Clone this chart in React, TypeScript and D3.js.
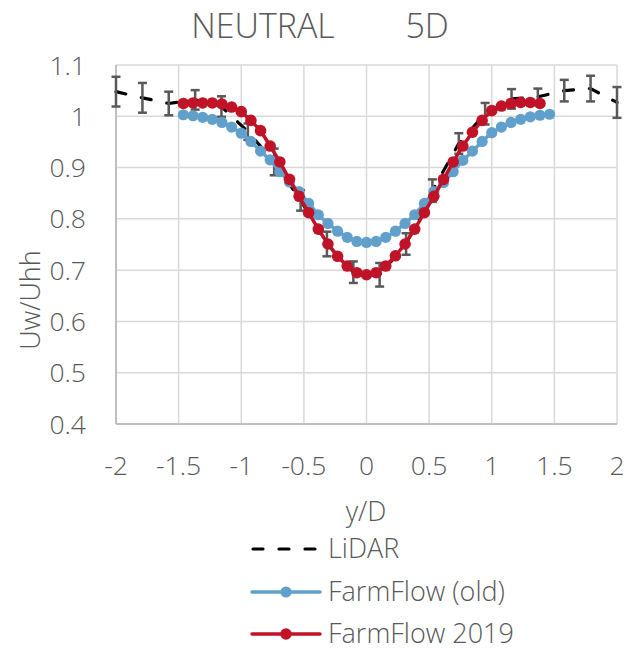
import React from "react";
import * as d3 from "d3";

// ---- data ----
const lidarX = [-2, -1.789, -1.579, -1.368, -1.158, -0.947, -0.737, -0.526, -0.316, -0.105, 0.105, 0.316, 0.526, 0.737, 0.947, 1.158, 1.368, 1.579, 1.789, 2];
const lidarY = [1.048, 1.036, 1.025, 1.032, 1.019, 0.97, 0.911, 0.836, 0.751, 0.696, 0.691, 0.751, 0.855, 0.947, 1.005, 1.034, 1.038, 1.05, 1.054, 1.027];
const lidarErr = [0.029, 0.029, 0.023, 0.019, 0.02, 0.016, 0.026, 0.02, 0.024, 0.021, 0.023, 0.021, 0.022, 0.02, 0.021, 0.019, 0.016, 0.021, 0.025, 0.03];

const oldX = [-1.462, -1.385, -1.308, -1.231, -1.154, -1.077, -1.0, -0.923, -0.846, -0.769, -0.692, -0.615, -0.538, -0.462, -0.385, -0.308, -0.231, -0.154, -0.077, 0,
  0.077, 0.154, 0.231, 0.308, 0.385, 0.462, 0.538, 0.615, 0.692, 0.769, 0.846, 0.923, 1.0, 1.077, 1.154, 1.231, 1.308, 1.385, 1.462];
const oldY = [1.003, 1.001, 0.998, 0.994, 0.988, 0.979, 0.967, 0.951, 0.932, 0.915, 0.892, 0.872, 0.853, 0.83, 0.808, 0.791, 0.776, 0.764, 0.756, 0.754,
  0.756, 0.764, 0.776, 0.791, 0.808, 0.83, 0.853, 0.871, 0.892, 0.914, 0.932, 0.951, 0.968, 0.979, 0.988, 0.994, 0.999, 1.002, 1.004];

const newX = [-1.462, -1.385, -1.308, -1.231, -1.154, -1.077, -1.0, -0.923, -0.846, -0.769, -0.692, -0.615, -0.538, -0.462, -0.385, -0.308, -0.231, -0.154, -0.077, 0,
  0.077, 0.154, 0.231, 0.308, 0.385, 0.462, 0.538, 0.615, 0.692, 0.769, 0.846, 0.923, 1.0, 1.077, 1.154, 1.231, 1.308, 1.385];
const newY = [1.025, 1.026, 1.026, 1.026, 1.024, 1.018, 1.009, 0.992, 0.972, 0.942, 0.911, 0.877, 0.844, 0.812, 0.78, 0.751, 0.727, 0.708, 0.695, 0.691,
  0.695, 0.708, 0.728, 0.751, 0.78, 0.812, 0.844, 0.877, 0.911, 0.942, 0.969, 0.992, 1.011, 1.02, 1.025, 1.027, 1.027, 1.025];

const xTicks = [-2, -1.5, -1, -0.5, 0, 0.5, 1, 1.5, 2];
const xTickLabels = ["-2", "-1.5", "-1", "-0.5", "0", "0.5", "1", "1.5", "2"];
const yTicks = [0.4, 0.5, 0.6, 0.7, 0.8, 0.9, 1.0, 1.1];
const yTickLabels = ["0.4", "0.5", "0.6", "0.7", "0.8", "0.9", "1", "1.1"];
const seriesNames = ["LiDAR", "FarmFlow (old)", "FarmFlow 2019"];
const titleText = "NEUTRAL        5D";
const xTitle = "y/D";
const yTitle = "Uw/Uhh";

const BLUE = "#62A0CC";
const RED = "#C01327";
const TEXT = "#595959";
const FONT = "'Open Sans', 'Segoe UI', sans-serif";

export default function App() {
  const W = 626, H = 651;
  const x = d3.scaleLinear().domain([-2, 2]).range([116, 617]);
  const y = d3.scaleLinear().domain([0.4, 1.1]).range([424, 65]);

  const line = d3.line<[number, number]>().x((d) => x(d[0])).y((d) => y(d[1]));
  const lidarPts = lidarX.map((v, i) => [v, lidarY[i]] as [number, number]);
  const oldPts = oldX.map((v, i) => [v, oldY[i]] as [number, number]);
  const newPts = newX.map((v, i) => [v, newY[i]] as [number, number]);

  const legendY = [549, 592, 634];

  return (
    <svg width={W} height={H} style={{ position: "absolute", left: 0, top: 0, background: "#fff" }} fontFamily={FONT}>
      <rect x={0} y={0} width={W} height={H} fill="#fff" />
      {/* title */}
      <text x={320} y={38} textAnchor="middle" fontSize={34} fontWeight={300} fill={TEXT} style={{ whiteSpace: "pre" }}>
        {titleText}
      </text>
      {/* grid */}
      {xTicks.map((t) => (
        <line key={"gx" + t} x1={x(t)} x2={x(t)} y1={y(1.1)} y2={y(0.4)} stroke="#D9D9D9" strokeWidth={1.5} />
      ))}
      {yTicks.map((t) => (
        <line key={"gy" + t} x1={x(-2)} x2={x(2)} y1={y(t)} y2={y(t)} stroke="#D9D9D9" strokeWidth={1.5} />
      ))}
      <line x1={x(-2)} x2={x(-2)} y1={y(1.1)} y2={y(0.4)} stroke="#BFBFBF" strokeWidth={2} />
      <line x1={x(-2)} x2={x(2)} y1={y(0.4)} y2={y(0.4)} stroke="#BFBFBF" strokeWidth={2} />
      {/* tick labels */}
      {yTicks.map((t, i) => (
        <text key={"ty" + t} x={86} y={y(t) + 9.5} textAnchor="end" fontSize={26.5} fontWeight={300} fill={TEXT}>
          {yTickLabels[i]}
        </text>
      ))}
      {xTicks.map((t, i) => (
        <text key={"tx" + t} x={x(t)} y={475} textAnchor="middle" fontSize={26.5} fontWeight={300} fill={TEXT}>
          {xTickLabels[i]}
        </text>
      ))}
      <text x={366} y={521} textAnchor="middle" fontSize={27} fontWeight={300} fill={TEXT}>{xTitle}</text>
      <text transform="translate(40,300) rotate(-90)" textAnchor="middle" fontSize={27} fontWeight={300} fill={TEXT}>{yTitle}</text>

      {/* LiDAR */}
      <path d={line(lidarPts) || ""} fill="none" stroke="#000" strokeWidth={3.2} strokeDasharray="10,16" strokeLinecap="round" />
      {lidarPts.map((p, i) => {
        const cx = x(p[0]);
        const y1 = y(p[1] + lidarErr[i]);
        const y2 = y(p[1] - lidarErr[i]);
        return (
          <g key={"e" + i} stroke="#595959" strokeWidth={2.5}>
            <line x1={cx} x2={cx} y1={y1} y2={y2} />
            <line x1={cx - 4.5} x2={cx + 4.5} y1={y1} y2={y1} />
            <line x1={cx - 4.5} x2={cx + 4.5} y1={y2} y2={y2} />
          </g>
        );
      })}
      {/* FarmFlow old */}
      <path d={line(oldPts) || ""} fill="none" stroke={BLUE} strokeWidth={3.5} />
      {oldPts.map((p, i) => (
        <circle key={"o" + i} cx={x(p[0])} cy={y(p[1])} r={5.6} fill={BLUE} />
      ))}
      {/* FarmFlow 2019 */}
      <path d={line(newPts) || ""} fill="none" stroke={RED} strokeWidth={3.5} />
      {newPts.map((p, i) => (
        <circle key={"n" + i} cx={x(p[0])} cy={y(p[1])} r={5.8} fill={RED} />
      ))}

      {/* legend */}
      <line x1={253} x2={320} y1={legendY[0]} y2={legendY[0]} stroke="#000" strokeWidth={3.2} strokeDasharray="10,16" strokeLinecap="round" />
      <line x1={252} x2={320} y1={legendY[1]} y2={legendY[1]} stroke={BLUE} strokeWidth={3.5} strokeLinecap="round" />
      <circle cx={286} cy={legendY[1]} r={5.6} fill={BLUE} />
      <line x1={252} x2={320} y1={legendY[2]} y2={legendY[2]} stroke={RED} strokeWidth={3.5} strokeLinecap="round" />
      <circle cx={286} cy={legendY[2]} r={5.8} fill={RED} />
      {seriesNames.map((s, i) => (
        <text key={s} x={328} y={legendY[i] + 9} fontSize={27} fontWeight={300} fill={TEXT}>{s}</text>
      ))}
    </svg>
  );
}
